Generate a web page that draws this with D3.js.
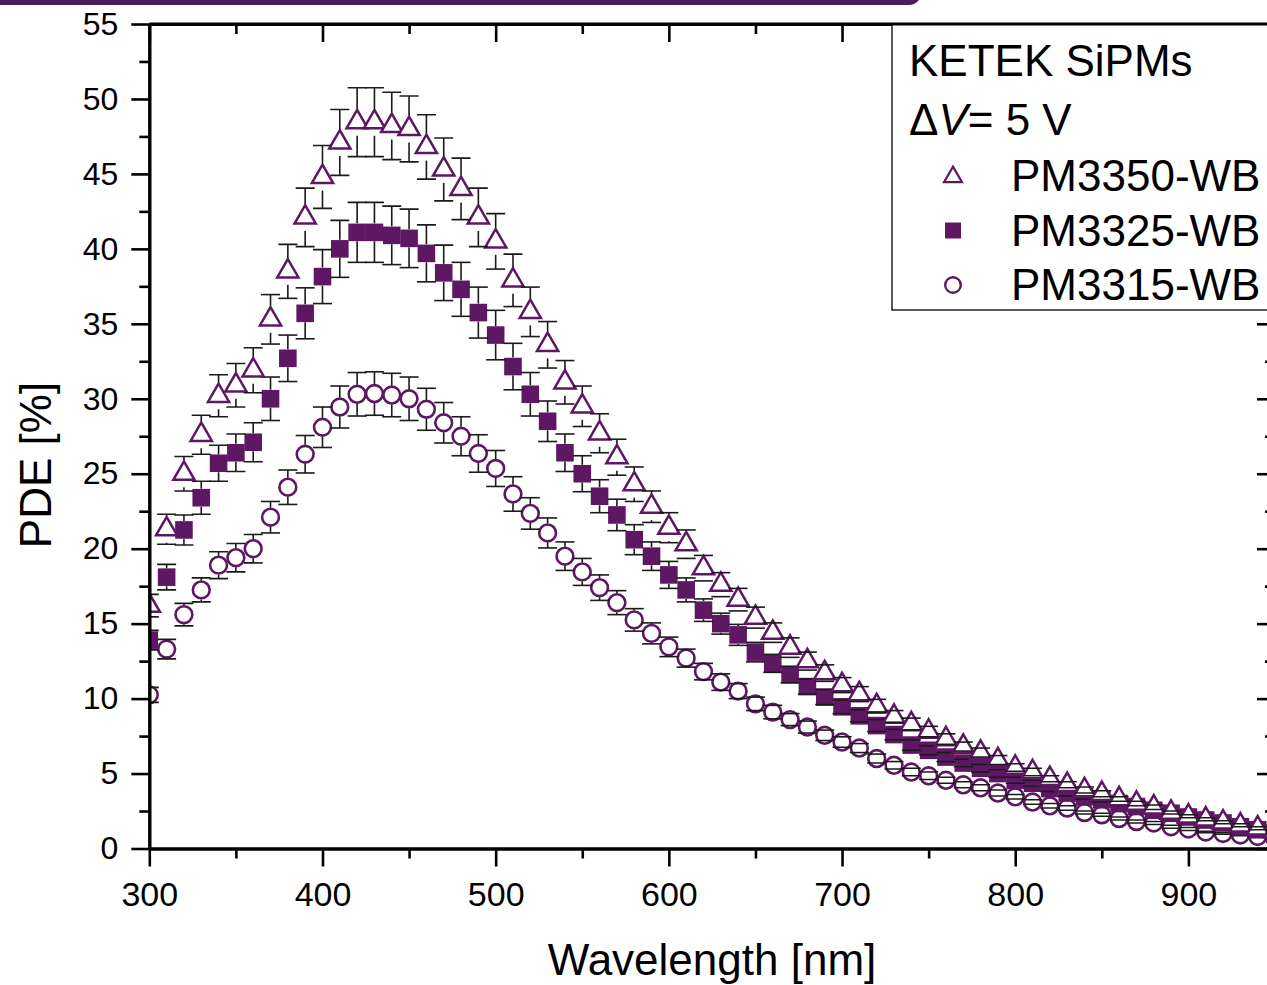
<!DOCTYPE html>
<html><head><meta charset="utf-8">
<script src="https://cdn.jsdelivr.net/npm/d3@7/dist/d3.min.js"></script>
<style>
body{margin:0;background:#fff}
svg{display:block}
text{font-family:Arial,"Liberation Sans",sans-serif;fill:#000}
</style>
</head><body>
<svg id="chart" width="1267" height="985"></svg>
<script>
// ---------------- DATA ----------------
const wavelength = [300,310,320,330,340,350,360,370,380,390,400,410,420,430,440,450,460,470,480,490,
  500,510,520,530,540,550,560,570,580,590,600,610,620,630,640,650,660,670,680,690,
  700,710,720,730,740,750,760,770,780,790,800,810,820,830,840,850,860,870,880,890,
  900,910,920,930,940,950];

const pm3350 = [16.2,21.3,25.0,27.6,30.2,30.9,31.9,35.3,38.5,42.1,44.8,47.1,48.45,48.45,48.2,48.0,46.8,45.3,44.0,42.1,
  40.5,37.9,35.8,33.6,31.1,29.5,27.7,26.1,24.3,22.8,21.4,20.3,18.7,17.6,16.6,15.4,14.4,13.4,12.5,11.7,
  10.9,10.3,9.5,8.8,8.3,7.8,7.3,6.8,6.4,5.9,5.4,5.1,4.65,4.25,3.9,3.65,3.3,3.0,2.75,2.4,
  2.15,1.95,1.75,1.55,1.35,1.15];
const pm3350Err = [0.75,1.0,1.15,1.3,1.4,1.45,1.5,1.65,1.8,1.95,2.1,2.2,2.3,2.3,2.25,2.2,2.15,2.1,2.05,1.95,
  1.85,1.75,1.65,1.55,1.45,1.35,1.3,1.2,1.15,1.05,1.0,0.95,0.85,0.8,0.75,0.7,0.65,0.65,0.6,0.55,
  0.5,0.5,0.45,0.4,0.4,0.35,0.35,0.3,0.3,0.3,0.25,0.25,0.2,0.2,0.2,0.2,0.15,0.15,0.15,0.1,
  0.1,0.1,0.1,0.1,0.1,0.1];

const pm3325 = [13.9,18.1,21.25,23.4,25.7,26.4,27.1,30.0,32.7,35.7,38.15,40.0,41.1,41.1,40.9,40.7,39.7,38.4,37.3,35.75,
  34.25,32.15,30.3,28.5,26.4,25.0,23.5,22.25,20.6,19.5,18.25,17.25,15.9,15.0,14.25,13.1,12.35,11.6,10.8,10.1,
  9.45,8.85,8.2,7.6,6.9,6.55,6.1,5.7,5.35,5.0,4.55,4.35,4.0,3.7,3.45,3.25,3.0,2.8,2.55,2.35,
  2.1,1.9,1.7,1.45,1.25,1.05];
const pm3325Err = [0.65,0.85,1.0,1.1,1.2,1.25,1.3,1.45,1.55,1.7,1.8,1.9,2.0,2.0,1.95,1.95,1.9,1.85,1.8,1.7,
  1.65,1.55,1.45,1.35,1.25,1.2,1.1,1.05,1.0,0.95,0.9,0.8,0.75,0.7,0.7,0.65,0.6,0.55,0.5,0.5,
  0.45,0.4,0.4,0.35,0.35,0.3,0.3,0.25,0.25,0.25,0.2,0.2,0.2,0.2,0.15,0.15,0.15,0.15,0.1,0.1,
  0.1,0.1,0.1,0.1,0.1,0.1];

const pm3315 = [10.25,13.3,15.6,17.25,18.9,19.4,20.0,22.1,24.1,26.3,28.1,29.45,30.3,30.35,30.25,30.0,29.3,28.4,27.5,26.35,
  25.35,23.65,22.35,21.05,19.5,18.45,17.4,16.4,15.25,14.35,13.45,12.7,11.8,11.1,10.5,9.65,9.1,8.6,8.1,7.55,
  7.1,6.7,6.0,5.55,5.1,4.85,4.55,4.25,4.05,3.7,3.45,3.1,2.85,2.7,2.4,2.25,2.0,1.8,1.7,1.45,
  1.3,1.1,1.0,0.9,0.8,0.65];
const pm3315Err = [0.5,0.65,0.75,0.8,0.9,0.95,0.95,1.05,1.15,1.25,1.35,1.4,1.45,1.45,1.45,1.45,1.4,1.35,1.3,1.25,
  1.2,1.15,1.05,1.0,0.95,0.9,0.85,0.8,0.75,0.7,0.65,0.6,0.55,0.55,0.5,0.45,0.45,0.4,0.4,0.35,
  0.35,0.3,0.3,0.25,0.25,0.25,0.2,0.2,0.2,0.2,0.15,0.15,0.15,0.15,0.1,0.1,0.1,0.1,0.1,0.1,
  0.1,0.05,0.05,0.05,0.05,0.05];

const seriesNames = ["PM3350-WB","PM3325-WB","PM3315-WB"];
const xMajorTicks = [300,400,500,600,700,800,900];
const xMinorTicks = [350,450,550,650,750,850,950];
const yMajorTicks = [0,5,10,15,20,25,30,35,40,45,50,55];
const yMinorTicks = [2.5,7.5,12.5,17.5,22.5,27.5,32.5,37.5,42.5,47.5,52.5];
const xTitle = "Wavelength [nm]";
const yTitle = "PDE [%]";
const legendTitle = "KETEK SiPMs";

// ---------------- DRAW ----------------
const purple = "#5e1762";
const svg = d3.select("#chart");

// header bar
svg.append("path").attr("d","M0,0 H919 Q915,5 909,5 H0 Z").attr("fill","#4c1c5c");

const L = 149.3, R = 1275, T = 24, B = 848.5;
const x = d3.scaleLinear().domain([300,950]).range([L,R]);
const y = d3.scaleLinear().domain([0,55]).range([B,T]);

svg.append("defs").append("clipPath").attr("id","plotclip")
  .append("rect").attr("x",L).attr("y",T).attr("width",R-L).attr("height",B-T);

const plot = svg.append("g").attr("clip-path","url(#plotclip)");

const series = [
  {name:seriesNames[2], vals:pm3315, errs:pm3315Err, shape:"circle", gap:9.5},
  {name:seriesNames[1], vals:pm3325, errs:pm3325Err, shape:"square", gap:9},
  {name:seriesNames[0], vals:pm3350, errs:pm3350Err, shape:"triangle", gap:13.5}
];

const triPath = d3.symbol().type(d3.symbolTriangle).size(195)();

function drawMarker(g, shape){
  if(shape==="circle"){
    g.append("circle").attr("r",8.4).attr("fill","#fff").attr("stroke",purple).attr("stroke-width",2.6);
  } else if(shape==="square"){
    g.append("rect").attr("x",-8.8).attr("y",-8.8).attr("width",17.6).attr("height",17.6).attr("fill",purple);
  } else {
    g.append("path").attr("d",triPath).attr("fill","#fff").attr("stroke",purple).attr("stroke-width",2.5).attr("stroke-linejoin","miter");
  }
}

series.forEach(s=>{
  const pts = wavelength.map((w,i)=>({w, v:s.vals[i], e:s.errs[i]}));
  const gm = plot.append("g");
  pts.forEach(p=>{
    const g = gm.append("g").attr("transform",`translate(${x(p.w)},${y(p.v)})`);
    drawMarker(g, s.shape);
  });
  const ge = plot.append("g").attr("stroke","#1a1a1a").attr("stroke-width",1.6).attr("fill","none");
  pts.forEach(p=>{
    const cx = x(p.w), cy = y(p.v), yt = y(p.v+p.e), yb = y(p.v-p.e);
    if(yt < cy - s.gap) ge.append("line").attr("x1",cx).attr("x2",cx).attr("y1",yt).attr("y2",cy-s.gap);
    if(yb > cy + s.gap) ge.append("line").attr("x1",cx).attr("x2",cx).attr("y1",cy+s.gap).attr("y2",yb);
    ge.append("line").attr("x1",cx-9.5).attr("x2",cx+9.5).attr("y1",yt).attr("y2",yt);
    ge.append("line").attr("x1",cx-9.5).attr("x2",cx+9.5).attr("y1",yb).attr("y2",yb);
  });
});

// axes
function styleAxis(g, fontSize){
  g.select(".domain").attr("stroke","#000").attr("stroke-width",3);
  g.selectAll(".tick line").attr("stroke","#000").attr("stroke-width",2.6);
  g.selectAll(".tick text").attr("font-size",fontSize).attr("fill","#000")
   .style("font-family","Arial, 'Liberation Sans', sans-serif");
}
const gxb = svg.append("g").attr("transform",`translate(0,${B})`)
  .call(d3.axisBottom(x).tickValues(xMajorTicks).tickSize(18).tickSizeOuter(0).tickPadding(15).tickFormat(d3.format("d")));
styleAxis(gxb, 34);
const gxbm = svg.append("g").attr("transform",`translate(0,${B})`)
  .call(d3.axisBottom(x).tickValues(xMinorTicks).tickSize(10).tickSizeOuter(0).tickFormat(""));
styleAxis(gxbm, 0);

const gxt = svg.append("g").attr("transform",`translate(0,${T})`)
  .call(d3.axisTop(x).tickValues(xMajorTicks).tickSize(-18).tickSizeOuter(0).tickFormat(""));
styleAxis(gxt,0);
const gxtm = svg.append("g").attr("transform",`translate(0,${T})`)
  .call(d3.axisTop(x).tickValues(xMinorTicks).tickSize(-10).tickSizeOuter(0).tickFormat(""));
styleAxis(gxtm,0);

const gyl = svg.append("g").attr("transform",`translate(${L},0)`)
  .call(d3.axisLeft(y).tickValues(yMajorTicks).tickSize(18).tickSizeOuter(0).tickPadding(13).tickFormat(d3.format("d")));
styleAxis(gyl, 32);
const gylm = svg.append("g").attr("transform",`translate(${L},0)`)
  .call(d3.axisLeft(y).tickValues(yMinorTicks).tickSize(10).tickSizeOuter(0).tickFormat(""));
styleAxis(gylm,0);

const gyr = svg.append("g").attr("transform",`translate(${R},0)`)
  .call(d3.axisRight(y).tickValues(yMajorTicks).tickSize(-18).tickSizeOuter(0).tickFormat(""));
styleAxis(gyr,0);
const gyrm = svg.append("g").attr("transform",`translate(${R},0)`)
  .call(d3.axisRight(y).tickValues(yMinorTicks).tickSize(-10).tickSizeOuter(0).tickFormat(""));
styleAxis(gyrm,0);

// axis titles
svg.append("text").attr("x",712).attr("y",975).attr("text-anchor","middle")
  .attr("font-size",44).text(xTitle);
svg.append("text").attr("transform","translate(51,465) rotate(-90)").attr("text-anchor","middle")
  .attr("font-size",44).text(yTitle);

// legend
const lg = svg.append("g");
lg.append("rect").attr("x",892).attr("y",T).attr("width",420).attr("height",310-T)
  .attr("fill","#fff").attr("stroke","#000").attr("stroke-width",1.3);
svg.append("line").attr("x1",L).attr("x2",R).attr("y1",T).attr("y2",T).attr("stroke","#000").attr("stroke-width",3);
lg.append("text").attr("x",909).attr("y",76).attr("font-size",44).text(legendTitle);
const dv = lg.append("text").attr("x",909).attr("y",135).attr("font-size",44);
dv.append("tspan").text("\u0394");
dv.append("tspan").attr("font-style","italic").text("V");
dv.append("tspan").text("= 5 V");

const legendItems = [
  {name:seriesNames[0], shape:"triangle"},
  {name:seriesNames[1], shape:"square"},
  {name:seriesNames[2], shape:"circle"}
];
legendItems.forEach((d,i)=>{
  const cy = 176 + i*54.5;
  const g = lg.append("g").attr("transform",`translate(953,${cy})`);
  if(d.shape==="triangle"){
    g.append("path").attr("d",d3.symbol().type(d3.symbolTriangle).size(140)()).attr("transform","translate(0,1)")
      .attr("fill","#fff").attr("stroke",purple).attr("stroke-width",2.2);
  } else if(d.shape==="square"){
    g.append("rect").attr("x",-8).attr("y",-8).attr("width",16).attr("height",16).attr("fill",purple);
  } else {
    g.append("circle").attr("r",7.8).attr("fill","#fff").attr("stroke",purple).attr("stroke-width",2.4);
  }
  lg.append("text").attr("x",1011).attr("y",cy+15).attr("font-size",44).text(d.name);
});
</script>
</body></html>
